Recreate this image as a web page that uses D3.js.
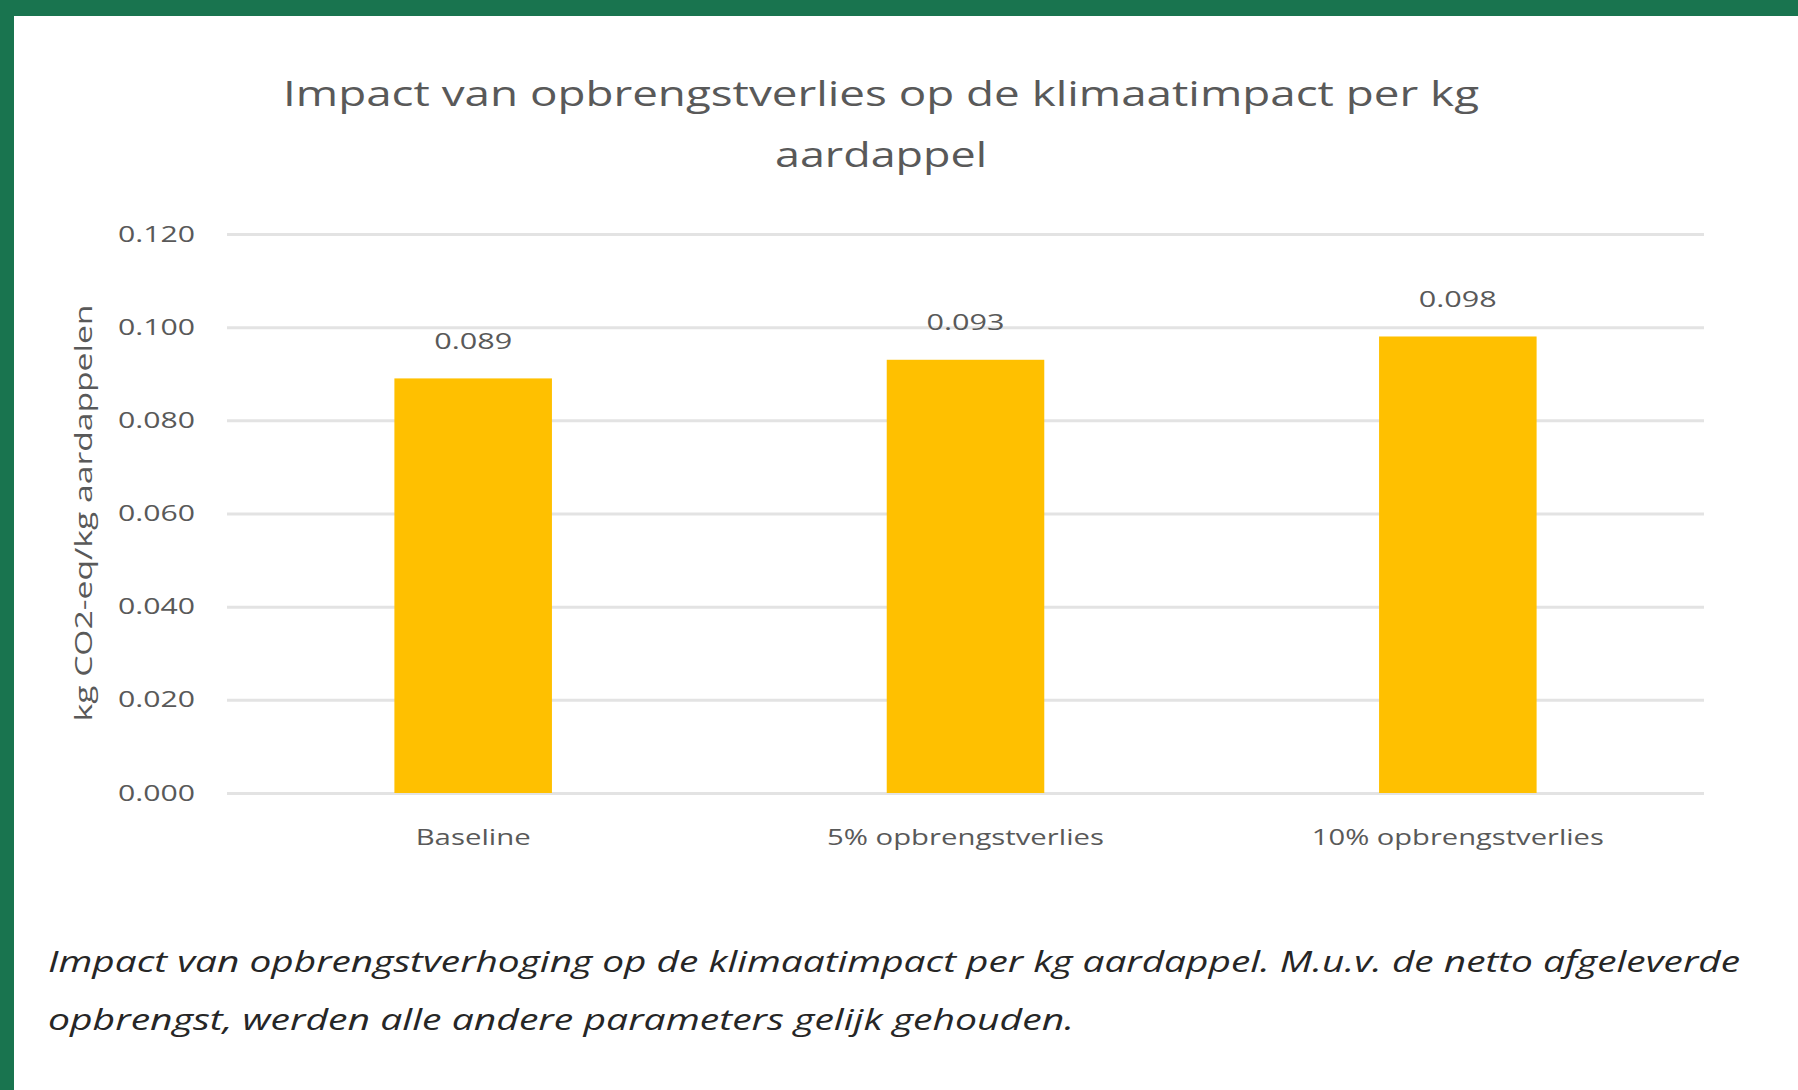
<!DOCTYPE html>
<html>
<head>
<meta charset="utf-8">
<script src="https://cdn.jsdelivr.net/npm/d3@7"></script>
<style>
  html, body { margin: 0; padding: 0; background: #ffffff; }
  svg { display: block; }
</style>
</head>
<body>
<svg id="chart" width="1798" height="1090"></svg>
<script>
// Chart data
const categories = ["Baseline", "5% opbrengstverlies", "10% opbrengstverlies"];
const values = [0.089, 0.093, 0.098];
const yTicks = [0, 0.02, 0.04, 0.06, 0.08, 0.10, 0.12];
const titleLines = ["Impact van opbrengstverlies op de klimaatimpact per kg", "aardappel"];
const yTitle = "kg CO2-eq/kg aardappelen";
const captionLines = [
  "Impact van opbrengstverhoging op de klimaatimpact per kg aardappel. M.u.v. de netto afgeleverde",
  "opbrengst, werden alle andere parameters gelijk gehouden."
];

const W = 1798, H = 1090;
const plot = { left: 227, right: 1704, top: 234, bottom: 793 };
const font = "'Open Sans', 'DejaVu Sans', sans-serif";
const grey = "#595959";

const svg = d3.select("#chart");

// frame
svg.append("rect").attr("x", 0).attr("y", 0).attr("width", W).attr("height", H).attr("fill", "#ffffff");
svg.append("rect").attr("x", 0).attr("y", 0).attr("width", W).attr("height", 16).attr("fill", "#19744f");
svg.append("rect").attr("x", 0).attr("y", 0).attr("width", 14).attr("height", H).attr("fill", "#19744f");

const x = d3.scaleBand()
  .domain(categories)
  .range([plot.left, plot.right])
  .paddingInner(0.68)
  .paddingOuter(0.34);

const y = d3.scaleLinear()
  .domain([0, 0.12])
  .range([plot.bottom, plot.top]);

// title
const title = svg.append("g");
const titleY = [94, 155];
const titleW = [1196, 212];
titleLines.forEach((t, i) => {
  title.append("text")
    .attr("x", 881).attr("y", titleY[i]).attr("dy", "0.35em")
    .attr("text-anchor", "middle")
    .attr("font-family", font).attr("font-size", 35)
    .attr("fill", grey)
    .attr("textLength", titleW[i]).attr("lengthAdjust", "spacingAndGlyphs")
    .text(t);
});

// gridlines + y tick labels
const yAxis = d3.axisLeft(y)
  .tickValues(yTicks)
  .tickFormat(d3.format(".3f"))
  .tickSize(-(plot.right - plot.left))
  .tickPadding(32);

const gy = svg.append("g")
  .attr("transform", `translate(${plot.left},0)`)
  .call(yAxis);
gy.select(".domain").remove();
gy.selectAll(".tick line").attr("stroke", "#e3e3e3").attr("stroke-width", 3);
gy.selectAll(".tick text")
  .attr("font-family", font).attr("font-size", 22)
  .attr("fill", grey)
  .attr("textLength", 77).attr("lengthAdjust", "spacingAndGlyphs");

// bars
svg.append("g").selectAll("rect")
  .data(values)
  .join("rect")
  .attr("x", (d, i) => x(categories[i]))
  .attr("y", d => y(d))
  .attr("width", x.bandwidth())
  .attr("height", d => y(0) - y(d))
  .attr("fill", "#ffc000");

// value labels
svg.append("g").selectAll("text")
  .data(values)
  .join("text")
  .attr("x", (d, i) => x(categories[i]) + x.bandwidth() / 2)
  .attr("y", d => y(d) - 37)
  .attr("dy", "0.35em")
  .attr("text-anchor", "middle")
  .attr("font-family", font).attr("font-size", 22)
  .attr("fill", grey)
  .attr("textLength", 78).attr("lengthAdjust", "spacingAndGlyphs")
  .text(d => d3.format(".3f")(d));

// category axis labels
const catW = [115, 277, 292];
const xAxis = d3.axisBottom(x).tickSize(0).tickPadding(0);
const gx = svg.append("g")
  .attr("transform", `translate(0,${plot.bottom})`)
  .call(xAxis);
gx.select(".domain").remove();
gx.selectAll(".tick text")
  .attr("y", 44).attr("dy", "0.35em")
  .attr("font-family", font).attr("font-size", 22)
  .attr("fill", grey)
  .attr("textLength", (d, i) => catW[i]).attr("lengthAdjust", "spacingAndGlyphs");

// y axis title
svg.append("text")
  .attr("transform", "translate(84,513) rotate(-90)")
  .attr("dy", "0.35em")
  .attr("text-anchor", "middle")
  .attr("font-family", font).attr("font-size", 23)
  .attr("fill", grey)
  .attr("textLength", 417).attr("lengthAdjust", "spacingAndGlyphs")
  .text(yTitle);

// caption
const capY = [961, 1019];
const capW = [1692, 1026];
captionLines.forEach((t, i) => {
  svg.append("text")
    .attr("x", 48).attr("y", capY[i]).attr("dy", "0.35em")
    .attr("font-family", font).attr("font-size", 30)
    .attr("font-style", "italic")
    .attr("fill", "#262626")
    .attr("textLength", capW[i]).attr("lengthAdjust", "spacingAndGlyphs")
    .text(t);
});
</script>
</body>
</html>
